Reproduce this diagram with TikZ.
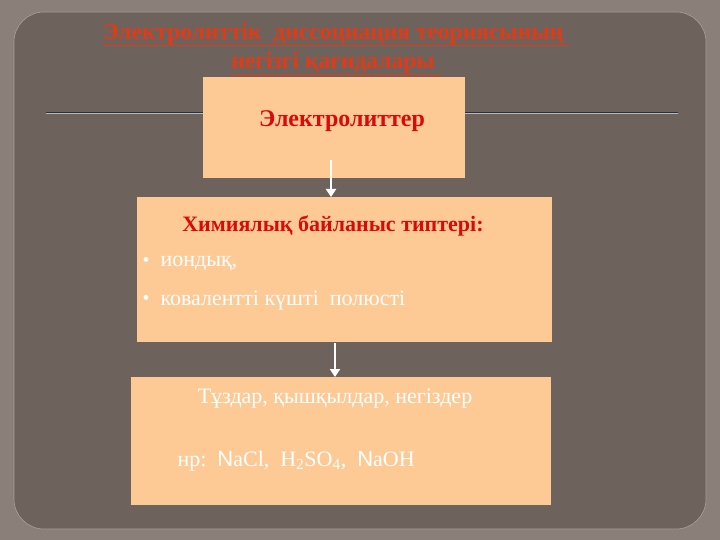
\documentclass[tikz,border=0pt]{standalone}
\usepackage{fontspec}
\setmainfont{Liberation Serif}
\newfontfamily\arialfont{Liberation Sans}
\usetikzlibrary{arrows.meta}

\definecolor{outerbg}{HTML}{8B7F79}
\definecolor{innerbg}{HTML}{6E625C}
\definecolor{peach}{HTML}{FDCA96}
\definecolor{titlered}{HTML}{E23A16}
\definecolor{boxred}{HTML}{D80A0A}
\definecolor{rulenavy}{HTML}{23304A}

\tikzset{
  box/.style={fill=peach, draw=none, inner sep=0pt, anchor=north west},
  redtext/.style={text=boxred, font=\bfseries\fontsize{22}{26}\selectfont},
  whitetext/.style={text=white, font=\fontsize{22}{26}\selectfont, anchor=west},
  dotmark/.style={text=white, font=\fontsize{20}{22}\selectfont},
  arr/.style={draw=white, line width=2.4pt, -{Triangle[width=10pt,length=8pt]}}
}

\begin{document}
\begin{tikzpicture}[x=1pt, y=-1pt]
    \useasboundingbox (0, 0) rectangle (720, 540);
    \fill [outerbg] (0, 0) rectangle (720, 540);
    \fill [innerbg] (14, 12) [rounded corners=30pt] rectangle (706, 529);
    \draw [white!40!innerbg, line width=0.6pt, rounded corners=30pt] (14, 12) rectangle (706, 529);

    % title
    \node (title) [text=titlered, font=\bfseries\fontsize{23.5}{29}\selectfont, align=center] at (336, 49)
        {\underline{Электролиттік\ \ диссоциация теориясының\ }\\\underline{негізгі қағидалары\ }};

    % rule line
    \coordinate (ruleL) at (46, 112.5);
    \coordinate (ruleR) at (678, 112.5);
    \draw [rulenavy, line width=1.2pt] (ruleL) -- (ruleR);
    \draw [white!55!innerbg, line width=0.6pt] ([yshift=-1.3pt]ruleL) -- ([yshift=-1.3pt]ruleR);

    % boxes
    \node (box1) [box, minimum width=262pt, minimum height=101pt] at (203, 77) {};
    \node (box2) [box, minimum width=415pt, minimum height=145pt] at (137, 197) {};
    \node (box3) [box, minimum width=420pt, minimum height=128pt] at (131, 377) {};

    \node (elec) [redtext, font=\bfseries\fontsize{24}{28}\selectfont] at (342, 121) {Электролиттер};

    \node (bondtitle) [redtext] at (333, 226) {Химиялық байланыс типтері:};
    \node (dot1) [dotmark] at (146, 262) {•};
    \node (ionic) [whitetext] at (157, 263) {иондық,};
    \node (dot2) [dotmark] at (146, 300) {•};
    \node (covalent) [whitetext] at (157, 301) {ковалентті күшті\ \ полюсті};

    \node (salts) [whitetext, anchor=center] at (335, 399) {Тұздар, қышқылдар, негіздер};
    \node (examples) [whitetext] at (174, 461)
        {нр:\ \ {\arialfont N}aCl,\ \ H\textsubscript{2}SO\textsubscript{4},\ \ {\arialfont N}aOH};

    % arrows
    \coordinate (a1) at (331, 160);
    \coordinate (a2) at (335, 343);
    \draw [arr] (a1) -- (a1 |- box2.north);
    \draw [arr] (a2) -- (a2 |- box3.north);
\end{tikzpicture}
\end{document}
